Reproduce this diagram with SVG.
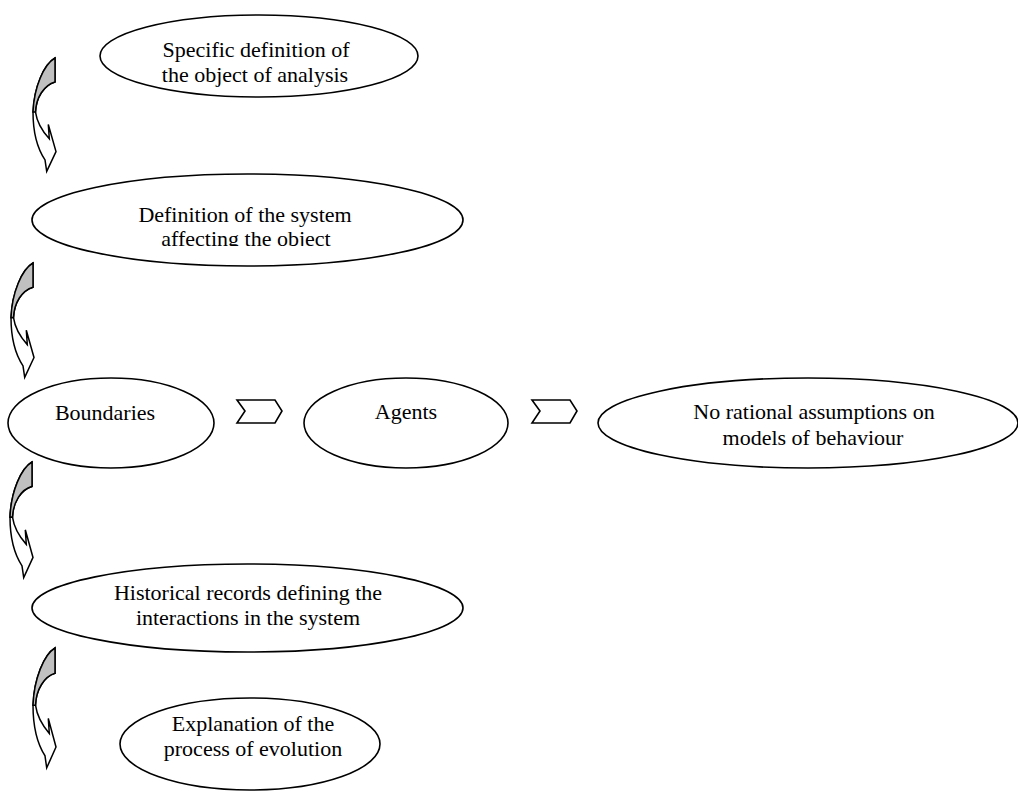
<svg xmlns="http://www.w3.org/2000/svg" xmlns:xlink="http://www.w3.org/1999/xlink" width="1018" height="802" viewBox="0 0 1018 802">
<style>
.node ellipse{fill:#fff;stroke:#000;stroke-width:1.6}
.node text{font-family:"Liberation Serif","Times New Roman",serif;font-size:22px;fill:#000;text-anchor:middle}
.chev{fill:#fff;stroke:#000;stroke-width:1.6;stroke-linejoin:miter}
.curl-body{fill:#fff;stroke:#000;stroke-width:1.5;stroke-linejoin:miter}
.curl-back{fill:#c0c0c0;stroke:#000;stroke-width:1.5}
</style>
<defs>
<g id="curl">
<path class="curl-body" d="M55,60 C44,66 34,88 33,112 C33,132 38,148 45,158 L46.7,169 L56,150 L48.3,124 L49.3,137.7 C42,130 37,122 35.5,112 C36,98 44,86 55,83 Z"/>
<path class="curl-back" d="M55,60 L55,83 C44,86 36,98 35.5,112 L33,112 C34,88 44,66 55,60 Z"/>
</g>
<clipPath id="clip2"><rect x="0" y="0" width="1018" height="246"/></clipPath>
</defs>
<rect width="1018" height="802" fill="#fff"/>

<g id="connectors">
<use xlink:href="#curl" transform="translate(0,58) scale(1,1.04) translate(0,-60)"/>
<use xlink:href="#curl" transform="translate(-22,263) scale(1,1.05) translate(0,-60)"/>
<use xlink:href="#curl" transform="translate(-23,462) scale(1,1.06) translate(0,-60)"/>
<use xlink:href="#curl" transform="translate(0,648) scale(1,1.1) translate(0,-60)"/>
<polygon class="chev" points="237,400 275,400 282,411 275,423 237,423 245,411"/>
<polygon class="chev" points="532,400 570,400 577,411 570,423 532,423 540,411"/>
</g>

<g id="n1" class="node">
<ellipse cx="259" cy="56" rx="159" ry="41"/>
<text x="256" y="57">Specific definition of</text>
<text x="255" y="82">the object of analysis</text>
</g>
<g id="n2" class="node">
<ellipse cx="247.5" cy="220" rx="215.5" ry="46"/>
<text x="245" y="222">Definition of the system</text>
<text x="246" y="246" clip-path="url(#clip2)">affecting the object</text>
</g>
<g id="n3" class="node">
<ellipse cx="111" cy="423" rx="103" ry="45"/>
<text x="105" y="420">Boundaries</text>
</g>
<g id="n4" class="node">
<ellipse cx="406" cy="423" rx="102" ry="45"/>
<text x="406" y="419">Agents</text>
</g>
<g id="n5" class="node">
<ellipse cx="808" cy="423" rx="210" ry="45"/>
<text x="814" y="419">No rational assumptions on</text>
<text x="813" y="445">models of behaviour</text>
</g>
<g id="n6" class="node">
<ellipse cx="247.5" cy="608" rx="215.5" ry="44"/>
<text x="248" y="600">Historical records defining the</text>
<text x="248" y="625">interactions in the system</text>
</g>
<g id="n7" class="node">
<ellipse cx="250" cy="744" rx="130" ry="46"/>
<text x="253" y="731">Explanation of the</text>
<text x="253" y="756">process of evolution</text>
</g>
</svg>
